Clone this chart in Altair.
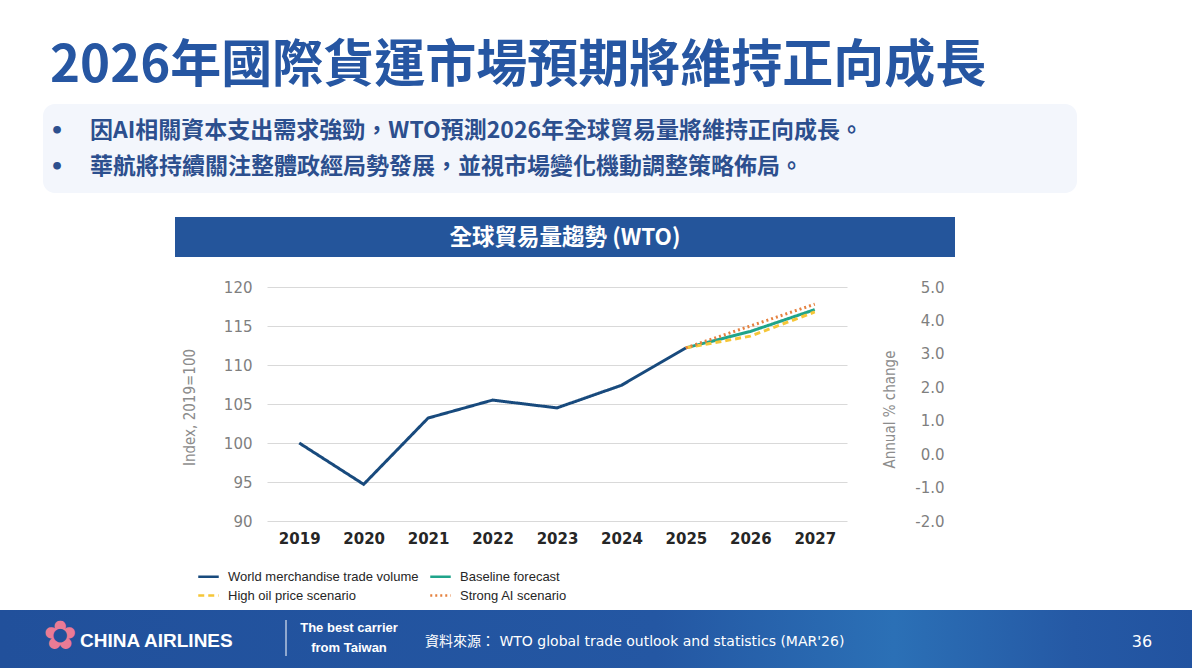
import altair as alt
import pandas as pd

# ---------------- data ----------------
all_years = ["2019", "2020", "2021", "2022", "2023", "2024", "2025", "2026", "2027"]
years_hist = ["2019", "2020", "2021", "2022", "2023", "2024", "2025"]
world_volume = [100.0, 94.7, 103.2, 105.5, 104.5, 107.4, 112.2]
years_fc = ["2025", "2026", "2027"]
baseline_fc = [112.2, 114.3, 117.1]
high_oil_fc = [112.2, 113.7, 116.8]
strong_ai_fc = [112.2, 115.0, 117.8]

series_names = ["World merchandise trade volume", "Baseline forecast",
                "High oil price scenario", "Strong AI scenario"]
series_colors = ["#184a7d", "#1fa48a", "#f5c638", "#e5813f"]
series_dash = [[1, 0], [1, 0], [6, 4], [2, 3]]

left_ticks = [90, 95, 100, 105, 110, 115, 120]
right_ticks = [-2, -1, 0, 1, 2, 3, 4, 5]

main_title = "2026年國際貨運市場預期將維持正向成長"
bullets = ["因AI相關資本支出需求強勁，WTO預測2026年全球貿易量將維持正向成長。",
           "華航將持續關注整體政經局勢發展，並視市場變化機動調整策略佈局。"]
panel_title = "全球貿易量趨勢 (WTO)"
left_title = "Index, 2019=100"
right_title = "Annual % change"
source_text = "資料來源： WTO global trade outlook and statistics (MAR'26)"
page_no = "36"

rows = []
for y, v in zip(years_hist, world_volume):
    rows.append({"series": series_names[0], "year": y, "value": v})
for name, vals in zip(series_names[1:], [baseline_fc, high_oil_fc, strong_ai_fc]):
    for y, v in zip(years_fc, vals):
        rows.append({"series": name, "year": y, "value": v})
df = pd.DataFrame(rows)

one = pd.DataFrame({"k": [0]})

CJK = "Noto Sans CJK TC"
COND = "DejaVu Sans Condensed, Liberation Sans"
W, H = 580, 234
PL, PT = 267, 287

legend = alt.Legend(title=None, orient="none", direction="horizontal", legendX=-70, legendY=278,
                    columns=2, columnPadding=6, rowPadding=0, padding=0, symbolType="stroke",
                    symbolSize=420, symbolStrokeWidth=2.5, labelFont="Liberation Sans",
                    labelFontSize=13, labelColor="#262626", labelOffset=8, labelLimit=400)

lines = alt.Chart(df).mark_line(strokeWidth=3).encode(
    x=alt.X("year:O", sort=all_years, scale=alt.Scale(type="point", padding=0.5, domain=all_years),
            axis=alt.Axis(title=None, labelAngle=0, domain=False, ticks=False, grid=False,
                          labelFont="DejaVu Sans", labelFontWeight="bold", labelFontSize=15,
                          labelColor="#262626", labelPadding=10)),
    y=alt.Y("value:Q", scale=alt.Scale(domain=[90, 120], nice=False, zero=False),
            axis=alt.Axis(title=left_title, values=left_ticks, domain=False, ticks=False,
                          grid=True, gridColor="#d9d9d9", gridWidth=1,
                          labelFont="DejaVu Sans", labelFontSize=15, labelColor="#7f7f7f",
                          labelPadding=15,
                          titleFont=COND, titleFontSize=15,
                          titleFontWeight="normal", titleColor="#8c8c8c",
                          titleAngle=270, titleX=-78, titleY=120,
                          titleAlign="center", titleBaseline="middle")),
    color=alt.Color("series:N", sort=series_names,
                    scale=alt.Scale(domain=series_names, range=series_colors), legend=legend),
    strokeDash=alt.StrokeDash("series:N", sort=series_names,
                              scale=alt.Scale(domain=series_names, range=series_dash), legend=legend),
)

right_axis = alt.Chart(pd.DataFrame({"pct": right_ticks})).mark_point(opacity=0).encode(
    x=alt.value(0),
    y=alt.Y("pct:Q", scale=alt.Scale(domain=[-2, 5], nice=False, zero=False),
            axis=alt.Axis(orient="right", title=right_title, values=right_ticks,
                          labelExpr="datum.value < 0 ? '-' + format(abs(datum.value), '.1f') : format(datum.value, '.1f')",
                          domain=False, ticks=False, grid=False,
                          labelFont="DejaVu Sans", labelFontSize=15, labelColor="#7f7f7f",
                          labelAlign="right", labelPadding=97,
                          titleFont=COND, titleFontSize=15,
                          titleFontWeight="normal", titleColor="#8c8c8c",
                          titleAngle=270, titleX=42, titleY=122,
                          titleAlign="center", titleBaseline="middle")),
)


def rect(x1, x2, y1, y2, **kw):
    return alt.Chart(one).mark_rect(**kw).encode(
        x=alt.value(x1 - PL), x2=alt.value(x2 - PL), y=alt.value(y1 - PT), y2=alt.value(y2 - PT))


def txt(s, x, y, **kw):
    return alt.Chart(one).mark_text(**kw).encode(
        x=alt.value(x - PL), y=alt.value(y - PT), text=alt.value(s))


box = rect(43, 1077, 104, 193, color="#f3f6fc", cornerRadius=12)
header = rect(175, 955, 217, 257, color="#24559b")
footer = rect(0, 1192, 610, 668, fill=alt.LinearGradient(
    gradient="linear", x1=0, x2=1, y1=0, y2=0,
    stops=[alt.GradientStop(offset=0, color="#21509b"),
           alt.GradientStop(offset=0.55, color="#2457a3"),
           alt.GradientStop(offset=0.75, color="#2b70b6"),
           alt.GradientStop(offset=0.9, color="#2559a5"),
           alt.GradientStop(offset=1, color="#2253a0")]))

sep = alt.Chart(one).mark_rule(color="white", strokeWidth=1).encode(
    x=alt.value(286 - PL), y=alt.value(620 - PT), y2=alt.value(656 - PT))

texts = [
    txt(main_title, 50, 82, font=CJK, fontSize=51, fontWeight="bold", color="#2656a2",
        align="left", baseline="alphabetic"),
    txt("•", 57, 131, font="DejaVu Sans", fontSize=22, fontWeight="bold", color="#2c4f8e",
        align="center", baseline="middle"),
    txt("•", 57, 167, font="DejaVu Sans", fontSize=22, fontWeight="bold", color="#2c4f8e",
        align="center", baseline="middle"),
    txt(bullets[0], 90, 131, font=CJK, fontSize=23, fontWeight="bold", color="#2c4f8e",
        align="left", baseline="middle"),
    txt(bullets[1], 90, 167, font=CJK, fontSize=23, fontWeight="bold", color="#2c4f8e",
        align="left", baseline="middle"),
    txt(panel_title, 565, 238, font=CJK, fontSize=22.5, fontWeight="bold", color="white",
        align="center", baseline="middle"),
    txt("✿", 60, 637, font="DejaVu Sans", fontSize=40, color="#ea7b95",
        align="center", baseline="middle"),
    txt("CHINA AIRLINES", 80, 641, font="Liberation Sans", fontSize=19, fontWeight="bold",
        color="white", align="left", baseline="middle"),
    txt("The best carrier", 349, 628, font="Liberation Sans", fontSize=13,
        fontWeight="bold", color="white", align="center", baseline="middle"),
    txt("from Taiwan", 349, 648, font="Liberation Sans", fontSize=13,
        fontWeight="bold", color="white", align="center", baseline="middle"),
    txt(source_text, 425, 642, font="DejaVu Sans, Noto Sans CJK TC", fontSize=14,
        color="white", align="left", baseline="middle"),
    txt(page_no, 1142, 642, font="DejaVu Sans", fontSize=16, color="white",
        align="center", baseline="middle"),
]

chart = alt.layer(
    box, header, footer, sep, *texts, lines, right_axis
).resolve_scale(y="independent").properties(
    width=W, height=H,
    autosize=alt.AutoSizeParams(type="none"),
    padding={"left": PL, "top": PT, "right": 1192 - PL - W, "bottom": 668 - PT - H},
    background="white",
).configure_view(stroke=None)

chart.save("out.html", embed_options={"renderer": "svg", "actions": False})
